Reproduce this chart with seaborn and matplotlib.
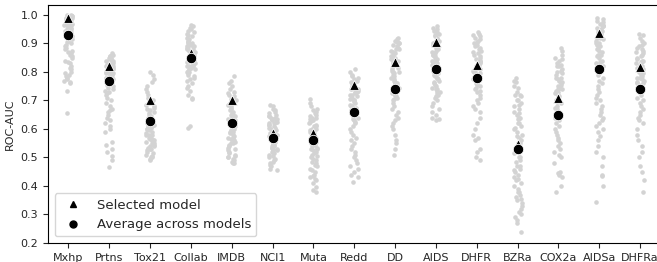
import numpy as np
import pandas as pd
import matplotlib
matplotlib.use("Agg")
import matplotlib.pyplot as plt
from matplotlib.lines import Line2D
import seaborn as sns

categories = ["Mxhp", "Prtns", "Tox21", "Collab", "IMDB", "NCI1", "Muta", "Redd",
              "DD", "AIDS", "DHFR", "BZRa", "COX2a", "AIDSa", "DHFRa"]

mxhp = [1.00, 1.00, 0.995, 0.995, 0.99, 0.99, 0.99, 0.985, 0.985, 0.98, 0.98, 0.98, 0.975, 0.975,
        0.97, 0.97, 0.965, 0.965, 0.96, 0.96, 0.955, 0.95, 0.95, 0.945, 0.94, 0.935, 0.93, 0.925,
        0.92, 0.915, 0.91, 0.905, 0.90, 0.895, 0.89, 0.885, 0.88, 0.875, 0.87, 0.865, 0.86, 0.855,
        0.85, 0.84, 0.835, 0.83, 0.82, 0.815, 0.81, 0.80, 0.795, 0.79, 0.785, 0.78, 0.775, 0.77,
        0.765, 0.76, 0.735, 0.655, 0.99, 0.98, 0.97, 0.96, 0.995, 0.985, 0.975, 0.965, 0.955, 0.945]
prtns = [0.865, 0.86, 0.855, 0.85, 0.85, 0.845, 0.84, 0.84, 0.835, 0.83, 0.83, 0.825, 0.82, 0.82,
         0.815, 0.81, 0.81, 0.805, 0.80, 0.80, 0.795, 0.79, 0.79, 0.785, 0.78, 0.78, 0.775, 0.77,
         0.765, 0.76, 0.76, 0.755, 0.75, 0.745, 0.74, 0.735, 0.73, 0.725, 0.72, 0.71, 0.70, 0.69,
         0.68, 0.67, 0.665, 0.66, 0.65, 0.64, 0.63, 0.62, 0.61, 0.60, 0.59, 0.555, 0.545, 0.53,
         0.52, 0.505, 0.49, 0.465, 0.84, 0.82, 0.80, 0.78, 0.855, 0.835, 0.815, 0.795]
tox21 = [0.80, 0.79, 0.775, 0.765, 0.75, 0.74, 0.73, 0.72, 0.71, 0.70, 0.695, 0.69, 0.685, 0.68,
         0.675, 0.67, 0.665, 0.66, 0.655, 0.65, 0.645, 0.64, 0.64, 0.635, 0.63, 0.625, 0.62, 0.62,
         0.615, 0.61, 0.605, 0.60, 0.60, 0.595, 0.59, 0.585, 0.58, 0.58, 0.575, 0.57, 0.565, 0.56,
         0.56, 0.555, 0.55, 0.55, 0.545, 0.54, 0.535, 0.53, 0.53, 0.525, 0.52, 0.515, 0.51, 0.505,
         0.50, 0.50, 0.495, 0.49, 0.60, 0.58, 0.56, 0.54, 0.61, 0.57, 0.55, 0.63]
collab = [0.965, 0.96, 0.955, 0.95, 0.945, 0.94, 0.935, 0.93, 0.925, 0.92, 0.915, 0.91, 0.905, 0.90,
          0.90, 0.895, 0.89, 0.89, 0.885, 0.88, 0.88, 0.875, 0.87, 0.87, 0.865, 0.86, 0.86, 0.855,
          0.85, 0.85, 0.845, 0.84, 0.84, 0.835, 0.83, 0.83, 0.825, 0.82, 0.82, 0.815, 0.81, 0.81,
          0.805, 0.80, 0.80, 0.795, 0.79, 0.785, 0.78, 0.775, 0.77, 0.76, 0.75, 0.745, 0.735, 0.72,
          0.71, 0.705, 0.61, 0.605, 0.88, 0.86, 0.84, 0.82, 0.87, 0.85, 0.83, 0.89]
imdb = [0.785, 0.77, 0.76, 0.75, 0.74, 0.73, 0.725, 0.72, 0.715, 0.71, 0.705, 0.70, 0.695, 0.69,
        0.685, 0.68, 0.675, 0.67, 0.665, 0.66, 0.655, 0.65, 0.645, 0.64, 0.635, 0.63, 0.625, 0.62,
        0.615, 0.61, 0.605, 0.60, 0.595, 0.59, 0.585, 0.58, 0.575, 0.57, 0.565, 0.56, 0.555, 0.55,
        0.545, 0.54, 0.535, 0.53, 0.525, 0.52, 0.515, 0.51, 0.505, 0.50, 0.50, 0.495, 0.49, 0.485,
        0.48, 0.48, 0.59, 0.61, 0.63, 0.57, 0.65, 0.55, 0.60, 0.62]
nci1 = [0.685, 0.68, 0.67, 0.665, 0.66, 0.655, 0.65, 0.645, 0.645, 0.64, 0.635, 0.635, 0.63, 0.625,
        0.625, 0.62, 0.615, 0.615, 0.61, 0.605, 0.605, 0.60, 0.595, 0.595, 0.59, 0.585, 0.585, 0.58,
        0.575, 0.575, 0.57, 0.565, 0.565, 0.56, 0.555, 0.555, 0.55, 0.545, 0.545, 0.54, 0.535, 0.535,
        0.53, 0.525, 0.525, 0.52, 0.515, 0.51, 0.505, 0.50, 0.495, 0.49, 0.485, 0.48, 0.475, 0.47,
        0.46, 0.455, 0.60, 0.58, 0.62, 0.56, 0.64, 0.54]
muta = [0.705, 0.69, 0.68, 0.67, 0.665, 0.66, 0.655, 0.65, 0.645, 0.64, 0.635, 0.63, 0.625, 0.62,
        0.615, 0.61, 0.605, 0.60, 0.595, 0.59, 0.585, 0.58, 0.575, 0.57, 0.565, 0.56, 0.555, 0.55,
        0.545, 0.54, 0.535, 0.53, 0.525, 0.52, 0.515, 0.51, 0.505, 0.50, 0.495, 0.49, 0.485, 0.48,
        0.475, 0.47, 0.46, 0.455, 0.45, 0.44, 0.435, 0.43, 0.425, 0.42, 0.41, 0.395, 0.385, 0.38,
        0.61, 0.59, 0.57, 0.55, 0.63, 0.53, 0.60, 0.64]
redd = [0.81, 0.80, 0.79, 0.785, 0.78, 0.775, 0.77, 0.765, 0.76, 0.755, 0.75, 0.745, 0.74, 0.735,
        0.73, 0.725, 0.72, 0.715, 0.71, 0.705, 0.70, 0.695, 0.69, 0.685, 0.68, 0.675, 0.67, 0.665,
        0.66, 0.655, 0.65, 0.645, 0.64, 0.635, 0.63, 0.625, 0.62, 0.61, 0.60, 0.59, 0.58, 0.57,
        0.56, 0.55, 0.54, 0.53, 0.52, 0.51, 0.50, 0.49, 0.48, 0.47, 0.46, 0.45, 0.44, 0.43, 0.415,
        0.76, 0.74, 0.72, 0.70, 0.68, 0.75, 0.73]
dd = [0.92, 0.915, 0.91, 0.905, 0.90, 0.895, 0.89, 0.885, 0.88, 0.875, 0.87, 0.865, 0.86, 0.855,
      0.85, 0.845, 0.84, 0.835, 0.83, 0.825, 0.82, 0.815, 0.81, 0.805, 0.80, 0.795, 0.79, 0.785,
      0.78, 0.775, 0.77, 0.765, 0.76, 0.755, 0.75, 0.745, 0.74, 0.735, 0.73, 0.725, 0.72, 0.715,
      0.71, 0.705, 0.70, 0.69, 0.68, 0.67, 0.66, 0.65, 0.64, 0.63, 0.62, 0.61, 0.60, 0.58, 0.56,
      0.55, 0.53, 0.51, 0.88, 0.84, 0.80, 0.76, 0.72, 0.90]
aids = [0.96, 0.955, 0.95, 0.945, 0.94, 0.935, 0.93, 0.925, 0.92, 0.915, 0.91, 0.905, 0.90, 0.895,
        0.89, 0.885, 0.88, 0.875, 0.87, 0.865, 0.86, 0.855, 0.85, 0.845, 0.84, 0.835, 0.83, 0.825,
        0.82, 0.815, 0.81, 0.805, 0.80, 0.795, 0.79, 0.785, 0.78, 0.775, 0.77, 0.765, 0.76, 0.755,
        0.75, 0.745, 0.74, 0.735, 0.73, 0.725, 0.72, 0.715, 0.71, 0.70, 0.69, 0.68, 0.67, 0.66,
        0.65, 0.64, 0.635, 0.63, 0.86, 0.82, 0.78, 0.74, 0.80, 0.84]
dhfr = [0.94, 0.935, 0.93, 0.925, 0.92, 0.915, 0.91, 0.905, 0.90, 0.895, 0.89, 0.885, 0.88, 0.875,
        0.87, 0.865, 0.86, 0.855, 0.85, 0.845, 0.84, 0.835, 0.83, 0.825, 0.82, 0.815, 0.81, 0.805,
        0.80, 0.795, 0.79, 0.785, 0.78, 0.775, 0.77, 0.765, 0.76, 0.755, 0.75, 0.745, 0.74, 0.735,
        0.73, 0.72, 0.71, 0.70, 0.69, 0.68, 0.67, 0.66, 0.64, 0.62, 0.60, 0.58, 0.57, 0.56, 0.53,
        0.52, 0.50, 0.49, 0.80, 0.78, 0.76, 0.82, 0.84, 0.79]
bzra = [0.78, 0.77, 0.765, 0.75, 0.745, 0.73, 0.72, 0.715, 0.70, 0.69, 0.685, 0.67, 0.66, 0.655,
        0.64, 0.635, 0.62, 0.61, 0.605, 0.59, 0.58, 0.575, 0.56, 0.55, 0.545, 0.53, 0.52, 0.515,
        0.50, 0.49, 0.485, 0.47, 0.46, 0.455, 0.44, 0.43, 0.425, 0.41, 0.40, 0.39, 0.38, 0.37,
        0.36, 0.355, 0.34, 0.33, 0.32, 0.31, 0.30, 0.29, 0.28, 0.27, 0.24, 0.72, 0.68, 0.64, 0.60,
        0.55, 0.50, 0.45, 0.42, 0.38, 0.35, 0.65, 0.70, 0.62, 0.57, 0.47]
cox2a = [0.885, 0.875, 0.86, 0.85, 0.845, 0.84, 0.83, 0.825, 0.82, 0.81, 0.805, 0.80, 0.795, 0.79,
         0.78, 0.775, 0.77, 0.765, 0.76, 0.755, 0.75, 0.745, 0.74, 0.735, 0.73, 0.725, 0.72, 0.715,
         0.71, 0.70, 0.695, 0.69, 0.68, 0.675, 0.67, 0.66, 0.655, 0.65, 0.64, 0.635, 0.63, 0.62,
         0.61, 0.60, 0.59, 0.58, 0.57, 0.56, 0.55, 0.54, 0.53, 0.52, 0.51, 0.50, 0.48, 0.45, 0.445,
         0.44, 0.43, 0.40, 0.38, 0.78, 0.74, 0.70, 0.66, 0.82]
aidsa = [0.99, 0.985, 0.98, 0.975, 0.97, 0.965, 0.96, 0.955, 0.95, 0.945, 0.94, 0.935, 0.93, 0.92,
         0.915, 0.91, 0.90, 0.895, 0.89, 0.88, 0.875, 0.87, 0.86, 0.855, 0.85, 0.84, 0.835, 0.83,
         0.82, 0.81, 0.80, 0.79, 0.78, 0.77, 0.76, 0.75, 0.74, 0.73, 0.72, 0.71, 0.70, 0.69, 0.68,
         0.67, 0.66, 0.65, 0.64, 0.63, 0.62, 0.61, 0.60, 0.59, 0.575, 0.56, 0.54, 0.52, 0.50, 0.47,
         0.44, 0.435, 0.40, 0.345, 0.96, 0.94, 0.92, 0.88, 0.86, 0.90]
dhfra = [0.935, 0.93, 0.92, 0.91, 0.90, 0.895, 0.89, 0.885, 0.88, 0.875, 0.87, 0.865, 0.86, 0.855,
         0.85, 0.845, 0.84, 0.835, 0.83, 0.825, 0.82, 0.815, 0.81, 0.805, 0.80, 0.795, 0.79, 0.785,
         0.78, 0.775, 0.77, 0.765, 0.76, 0.755, 0.75, 0.745, 0.74, 0.735, 0.73, 0.72, 0.71, 0.70,
         0.69, 0.68, 0.67, 0.66, 0.65, 0.64, 0.63, 0.62, 0.60, 0.58, 0.56, 0.54, 0.52, 0.50, 0.47,
         0.45, 0.42, 0.38, 0.80, 0.78, 0.76, 0.74, 0.82, 0.84]

all_runs = [mxhp, prtns, tox21, collab, imdb, nci1, muta, redd, dd, aids, dhfr, bzra, cox2a, aidsa, dhfra]

selected = [0.99, 0.82, 0.70, 0.865, 0.70, 0.585, 0.585, 0.756, 0.836, 0.905, 0.826, 0.548, 0.707, 0.936, 0.817]
average = [0.93, 0.77, 0.628, 0.85, 0.62, 0.57, 0.561, 0.66, 0.739, 0.81, 0.78, 0.53, 0.65, 0.809, 0.739]

rows = []
for cat, vals in zip(categories, all_runs):
    for v in vals:
        rows.append({"dataset": cat, "auc": v})
df = pd.DataFrame(rows)
summary = pd.DataFrame({"dataset": categories, "selected": selected, "average": average})

sns.set_style("ticks")
plt.rcParams["font.family"] = ["DejaVu Sans"]

fig = plt.figure(figsize=(6.57, 2.62), dpi=100)
ax = fig.add_axes([48 / 657, 19 / 262, 612.5 / 657, 238 / 262])

sns.stripplot(data=df, x="dataset", y="auc", order=categories, color="#d3d3d3",
              size=3.3, jitter=0.1, linewidth=0, ax=ax, zorder=1)
sns.stripplot(data=summary, x="dataset", y="selected", order=categories, color="black",
              marker="^", size=7, jitter=False, linewidth=0.6, edgecolor="white", ax=ax, zorder=3)
sns.stripplot(data=summary, x="dataset", y="average", order=categories, color="black",
              marker="o", size=7.5, jitter=False, linewidth=0.6, edgecolor="white", ax=ax, zorder=4)

ax.set_xlim(-0.5, 14.5)
ax.set_ylim(0.2, 1.035)
ax.set_yticks([0.2, 0.3, 0.4, 0.5, 0.6, 0.7, 0.8, 0.9, 1.0])
ax.set_ylabel("ROC-AUC", fontsize=8)
ax.set_xlabel("")
ax.tick_params(axis="both", labelsize=8, length=3.5, width=0.8)
for sp in ax.spines.values():
    sp.set_visible(True)
    sp.set_color("black")
    sp.set_linewidth(0.8)

handles = [
    Line2D([], [], marker="^", color="black", linestyle="none", markersize=5),
    Line2D([], [], marker="o", color="black", linestyle="none", markersize=5),
]
ax.legend(handles, ["Selected model", "Average across models"], loc="lower left",
          fontsize=9.5, frameon=True, borderaxespad=0.5)

fig.savefig("out.png", dpi=100)
